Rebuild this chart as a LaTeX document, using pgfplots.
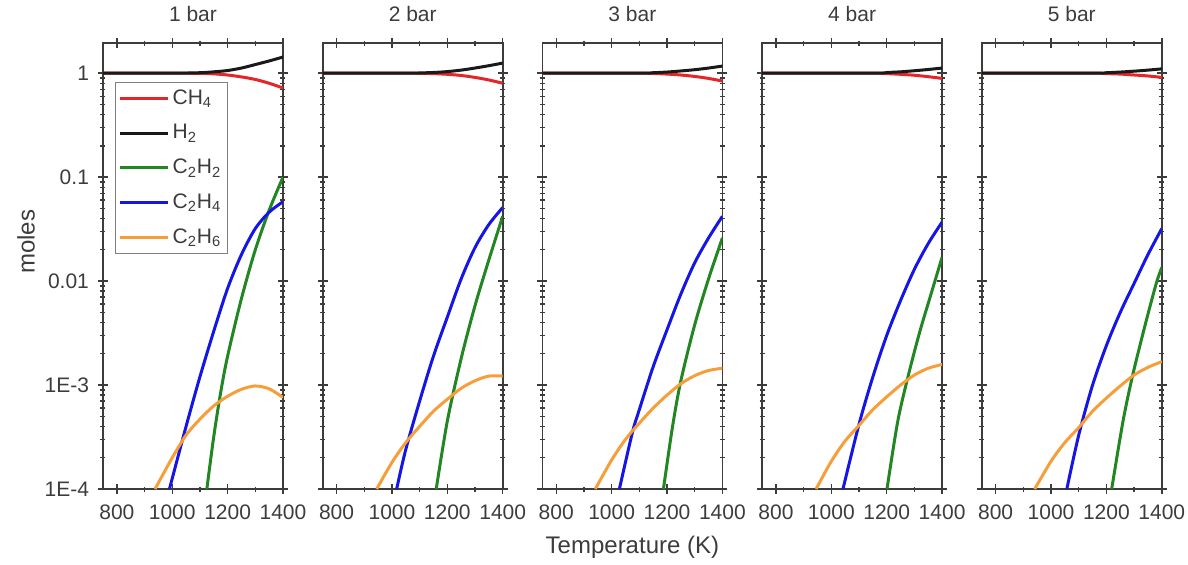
\documentclass[border=0pt]{standalone}
\usepackage{pgfplots}
\pgfplotsset{compat=1.18}
\usepackage{fontspec}
\setmainfont{Liberation Sans}
\definecolor{axisgray}{RGB}{60,60,60}
\definecolor{labelgray}{RGB}{60,60,60}
\definecolor{cRed}{RGB}{228,38,42}
\definecolor{cBlack}{RGB}{25,25,25}
\definecolor{cGreen}{RGB}{34,135,34}
\definecolor{cBlue}{RGB}{22,22,228}
\definecolor{cOrange}{RGB}{246,158,58}
\tikzset{curve/.style={line width=1.5pt}}
\pgfplotsset{
 every axis/.append style={
  scale only axis, width=90pt, height=223pt,
  xmin=750, xmax=1400, ymin=1e-4, ymax=1.95,
  xtick={800,1000,1200,1400}, minor xtick={900,1100,1300},
  ytick={1e-4,1e-3,0.01,0.1,1},
  minor ytick={2e-4,3e-4,4e-4,5e-4,6e-4,7e-4,8e-4,9e-4,
               2e-3,3e-3,4e-3,5e-3,6e-3,7e-3,8e-3,9e-3,
               0.02,0.03,0.04,0.05,0.06,0.07,0.08,0.09,
               0.2,0.3,0.4,0.5,0.6,0.7,0.8,0.9},
  tick align=center, major tick length=5pt, minor tick length=2.5pt,
  axis line style={draw=axisgray, line width=0.9pt},
  every tick/.style={axisgray, line width=0.7pt},
  tick label style={font=\fontsize{10.5}{12}\selectfont, text=labelgray},
  xticklabel style={yshift=-2pt},
  /pgf/number format/assume math mode=true,
  /pgf/number format/1000 sep={},
  title style={font=\fontsize{10.5}{12}\selectfont, text=labelgray, yshift=1pt},
  anchor=south west,
 },
}
\begin{document}
\begin{tikzpicture}
\useasboundingbox (-51.5pt,-37.5pt) rectangle (542.5pt,244.5pt);
% ---------------- 1 bar
\begin{semilogyaxis}[at={(0pt,0pt)}, title={1 bar},
  yticklabels={1E-4,1E-3,0.01,0.1,1},
  yticklabel style={xshift=-1pt},
  ylabel={moles}, ylabel style={font=\fontsize{12}{14}\selectfont, text=labelgray, at={(ticklabel cs:0.554)}, yshift=-2pt},
  legend style={at={(0.0667,0.9126)}, anchor=north west, draw=gray, line width=0.6pt,
    font=\fontsize{10.5}{12}\selectfont, text=labelgray, row sep=4.6pt, inner sep=1.5pt,
    nodes={inner xsep=1.5pt}},
  legend cell align=left,
  legend image code/.code={\draw[#1, line width=1.5pt] (0pt,0pt) -- (24pt,0pt);},
]
\addplot[cRed, curve, smooth] coordinates {(750,1)(1000,1)(1100,0.995)(1150,0.985)(1200,0.96)(1250,0.92)(1300,0.87)(1350,0.80)(1400,0.72)};
\addlegendentry{CH\textsubscript{4}}
\addplot[cBlack, curve, smooth] coordinates {(750,1)(1000,1)(1100,1.01)(1150,1.03)(1200,1.06)(1250,1.12)(1300,1.21)(1350,1.31)(1400,1.43)};
\addlegendentry{H\textsubscript{2}}
\addplot[cGreen, curve, smooth] coordinates {(1125,1e-4)(1150,3.2e-4)(1175,8.5e-4)(1200,1.9e-3)(1250,6.8e-3)(1300,0.02)(1350,0.048)(1400,0.1)};
\addlegendentry{C\textsubscript{2}H\textsubscript{2}}
\addplot[cBlue, curve, smooth] coordinates {(990,1e-4)(1050,4e-4)(1100,1.2e-3)(1150,3.3e-3)(1200,8.5e-3)(1250,0.018)(1300,0.032)(1350,0.046)(1400,0.058)};
\addlegendentry{C\textsubscript{2}H\textsubscript{4}}
\addplot[cOrange, curve, smooth] coordinates {(938,1e-4)(1000,2e-4)(1050,3.3e-4)(1100,4.7e-4)(1150,6.3e-4)(1200,7.8e-4)(1250,9.1e-4)(1300,9.8e-4)(1350,9.2e-4)(1400,7.6e-4)};
\addlegendentry{C\textsubscript{2}H\textsubscript{6}}
\end{semilogyaxis}
% ---------------- 2 bar
\begin{semilogyaxis}[at={(109.85pt,0pt)}, title={2 bar}, yticklabels={}]
\addplot[cRed, curve, smooth] coordinates {(750,1)(1050,1)(1100,0.997)(1150,0.99)(1200,0.975)(1250,0.95)(1300,0.91)(1350,0.86)(1400,0.80)};
\addplot[cBlack, curve, smooth] coordinates {(750,1)(1050,1)(1100,1.005)(1150,1.015)(1200,1.035)(1250,1.07)(1300,1.12)(1350,1.18)(1400,1.25)};
\addplot[cGreen, curve, smooth] coordinates {(1160,1e-4)(1200,4.5e-4)(1250,1.8e-3)(1300,5.8e-3)(1350,0.016)(1400,0.042)};
\addplot[cBlue, curve, smooth] coordinates {(1017,1e-4)(1050,2.4e-4)(1100,7e-4)(1150,1.9e-3)(1200,4.5e-3)(1250,0.0105)(1300,0.021)(1350,0.035)(1400,0.051)};
\addplot[cOrange, curve, smooth] coordinates {(945,1e-4)(1000,1.8e-4)(1050,2.8e-4)(1100,4.0e-4)(1150,5.6e-4)(1200,7.3e-4)(1250,9.3e-4)(1300,1.1e-3)(1350,1.22e-3)(1400,1.22e-3)};
\end{semilogyaxis}
% ---------------- 3 bar
\begin{semilogyaxis}[at={(219.7pt,0pt)}, title={3 bar}, yticklabels={},
  xlabel={Temperature (K)}, xlabel style={font=\fontsize{12}{14}\selectfont, text=labelgray, yshift=-1pt}]
\addplot[cRed, curve, smooth] coordinates {(750,1)(1100,1)(1150,0.993)(1200,0.98)(1250,0.96)(1300,0.93)(1350,0.89)(1400,0.84)};
\addplot[cBlack, curve, smooth] coordinates {(750,1)(1100,1)(1150,1.01)(1200,1.025)(1250,1.05)(1300,1.08)(1350,1.12)(1400,1.17)};
\addplot[cGreen, curve, smooth] coordinates {(1187,1e-4)(1220,4e-4)(1250,1.1e-3)(1300,3.8e-3)(1350,0.0105)(1400,0.026)};
\addplot[cBlue, curve, smooth] coordinates {(1028,1e-4)(1075,3.5e-4)(1100,5.8e-4)(1150,1.5e-3)(1200,3.4e-3)(1250,7.5e-3)(1300,0.015)(1350,0.026)(1400,0.042)};
\addplot[cOrange, curve, smooth] coordinates {(941,1e-4)(1000,1.9e-4)(1050,3e-4)(1100,4.3e-4)(1150,6e-4)(1200,8e-4)(1250,1.03e-3)(1300,1.23e-3)(1350,1.38e-3)(1400,1.45e-3)};
\end{semilogyaxis}
% ---------------- 4 bar
\begin{semilogyaxis}[at={(329.55pt,0pt)}, title={4 bar}, yticklabels={}]
\addplot[cRed, curve, smooth] coordinates {(750,1)(1150,1)(1200,0.99)(1250,0.975)(1300,0.955)(1350,0.925)(1400,0.89)};
\addplot[cBlack, curve, smooth] coordinates {(750,1)(1150,1)(1200,1.015)(1250,1.03)(1300,1.055)(1350,1.085)(1400,1.12)};
\addplot[cGreen, curve, smooth] coordinates {(1201,1e-4)(1240,4.5e-4)(1280,1.3e-3)(1320,3.3e-3)(1360,7.5e-3)(1400,0.017)};
\addplot[cBlue, curve, smooth] coordinates {(1042,1e-4)(1100,4.2e-4)(1150,1.2e-3)(1200,3e-3)(1250,6.5e-3)(1300,0.013)(1350,0.023)(1400,0.037)};
\addplot[cOrange, curve, smooth] coordinates {(945,1e-4)(1000,1.85e-4)(1050,2.9e-4)(1100,4.1e-4)(1150,5.8e-4)(1200,7.7e-4)(1250,1e-3)(1300,1.25e-3)(1350,1.45e-3)(1400,1.58e-3)};
\end{semilogyaxis}
% ---------------- 5 bar
\begin{semilogyaxis}[at={(439.4pt,0pt)}, title={5 bar}, yticklabels={}]
\addplot[cRed, curve, smooth] coordinates {(750,1)(1150,1)(1200,0.99)(1250,0.98)(1300,0.96)(1350,0.94)(1400,0.91)};
\addplot[cBlack, curve, smooth] coordinates {(750,1)(1150,1)(1200,1.01)(1250,1.025)(1300,1.045)(1350,1.07)(1400,1.10)};
\addplot[cGreen, curve, smooth] coordinates {(1219,1e-4)(1260,4.5e-4)(1295,1.25e-3)(1340,3.8e-3)(1380,9.5e-3)(1400,0.0135)};
\addplot[cBlue, curve, smooth] coordinates {(1057,1e-4)(1100,3.3e-4)(1150,1e-3)(1200,2.4e-3)(1250,5e-3)(1300,9.5e-3)(1350,0.018)(1400,0.032)};
\addplot[cOrange, curve, smooth] coordinates {(941,1e-4)(1000,1.85e-4)(1050,2.8e-4)(1100,3.9e-4)(1150,5.6e-4)(1200,7.5e-4)(1250,9.8e-4)(1300,1.25e-3)(1350,1.48e-3)(1400,1.68e-3)};
\end{semilogyaxis}
\end{tikzpicture}
\end{document}
